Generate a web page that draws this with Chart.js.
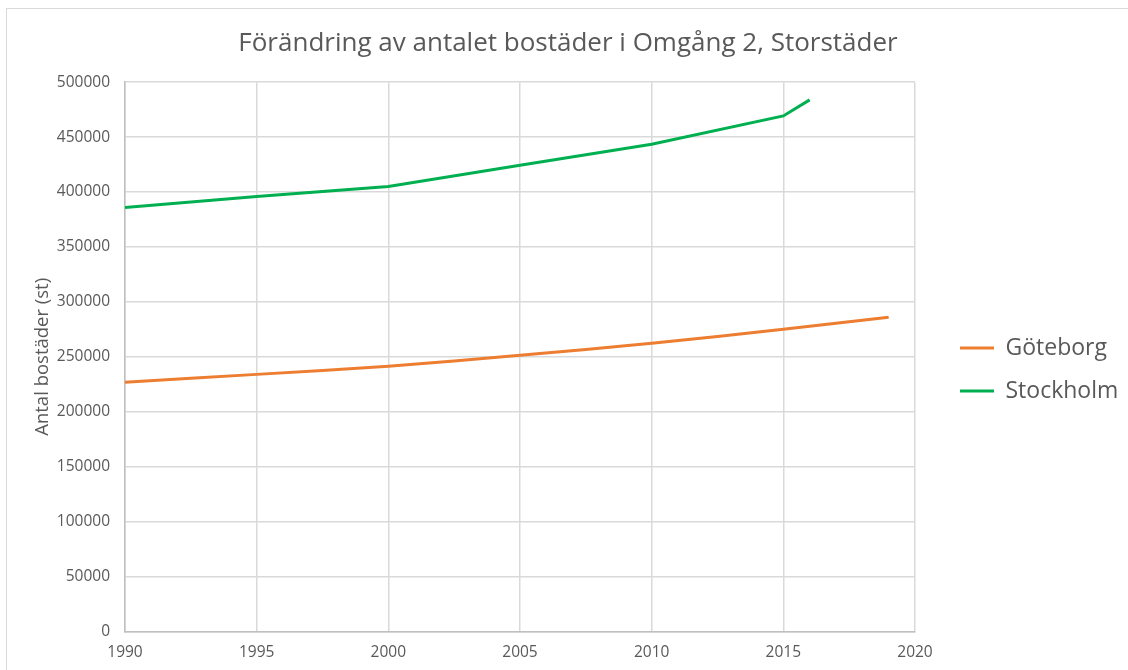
<!DOCTYPE html>
<html>
<head>
<meta charset="utf-8">
<script src="https://cdn.jsdelivr.net/npm/chart.js@4/dist/chart.umd.min.js"></script>
<style>
  html, body { margin: 0; padding: 0; background: #fff; overflow: hidden; }
  #frame { position: absolute; left: 6px; top: 8px; width: 1200px; height: 700px; border: 1px solid #d9d9d9; box-sizing: border-box; }
  #wrap { position: absolute; left: 0; top: 0; width: 1140px; height: 680px; }
</style>
</head>
<body>
<div id="frame"></div>
<div id="wrap"><canvas id="chart"></canvas></div>
<script>
// Data
const goteborgYears = [1990, 1995, 2000, 2005, 2010, 2015, 2017, 2019];
const goteborgValues = [226800, 234000, 241300, 251400, 262300, 275000, 280500, 286000];
const stockholmYears = [1990, 1995, 2000, 2005, 2010, 2015, 2016];
const stockholmValues = [386000, 396000, 405000, 424400, 443500, 469300, 483900];

const chartTitle = 'Förändring av antalet bostäder i Omgång 2, Storstäder';
const yAxisTitle = 'Antal bostäder (st)';

const textColor = '#595959';
const fontFamily = '"Open Sans", "Noto Sans", sans-serif';

function toPoints(xs, ys) {
    return xs.map((x, i) => ({ x: x, y: ys[i] }));
}

new Chart(document.getElementById('chart').getContext('2d'), {
    type: 'line',
    data: {
        datasets: [
            {
                label: 'Göteborg',
                data: toPoints(goteborgYears, goteborgValues),
                borderColor: '#ed7d31',
                backgroundColor: '#ed7d31',
                borderWidth: 3,
                pointRadius: 0,
                tension: 0.2
            },
            {
                label: 'Stockholm',
                data: toPoints(stockholmYears, stockholmValues),
                borderColor: '#00b050',
                backgroundColor: '#00b050',
                borderWidth: 3,
                pointRadius: 0,
                tension: 0
            }
        ]
    },
    options: {
        responsive: true,
        maintainAspectRatio: false,
        animation: false,
        layout: { padding: { left: 10, right: 14, top: 28, bottom: 6 } },
        plugins: {
            title: {
                display: true,
                text: chartTitle,
                color: textColor,
                font: { family: fontFamily, size: 26, weight: 'normal' },
                padding: { top: 0, bottom: 23 }
            },
            legend: {
                position: 'right',
                title: {
                    display: true,
                    text: ' ',
                    font: { size: 10, lineHeight: 1 },
                    padding: { top: 27, bottom: 0 }
                },
                labels: {
                    color: textColor,
                    font: { family: fontFamily, size: 23 },
                    usePointStyle: true,
                    pointStyle: 'line',
                    pointStyleWidth: 34,
                    padding: 20
                }
            },
            tooltip: { enabled: false }
        },
        scales: {
            x: {
                type: 'linear',
                min: 1990,
                max: 2020,
                ticks: {
                    stepSize: 5,
                    color: textColor,
                    font: { family: fontFamily, size: 15.5 },
                    callback: v => String(v),
                    padding: 12
                },
                grid: { color: '#d9d9d9', lineWidth: 1.5, drawTicks: false },
                border: { color: '#bfbfbf', width: 1.5 }
            },
            y: {
                min: 0,
                max: 500000,
                ticks: {
                    stepSize: 50000,
                    color: textColor,
                    font: { family: fontFamily, size: 15.5 },
                    callback: v => String(v),
                    padding: 15
                },
                title: {
                    display: true,
                    text: yAxisTitle,
                    color: textColor,
                    font: { family: fontFamily, size: 18.5 },
                    padding: { top: 22, bottom: 4 }
                },
                grid: { color: '#d9d9d9', lineWidth: 1.5, drawTicks: false },
                border: { color: '#bfbfbf', width: 1.5 },
                afterFit: scale => { scale.width = 115; }
            },
            // empty right-hand axis, only keeps a gap between plot and legend
            gap: {
                type: 'linear',
                position: 'right',
                display: true,
                ticks: { display: false },
                grid: { display: false },
                border: { display: false },
                afterFit: scale => { scale.width = 25; }
            }
        }
    }
});
</script>
</body>
</html>
